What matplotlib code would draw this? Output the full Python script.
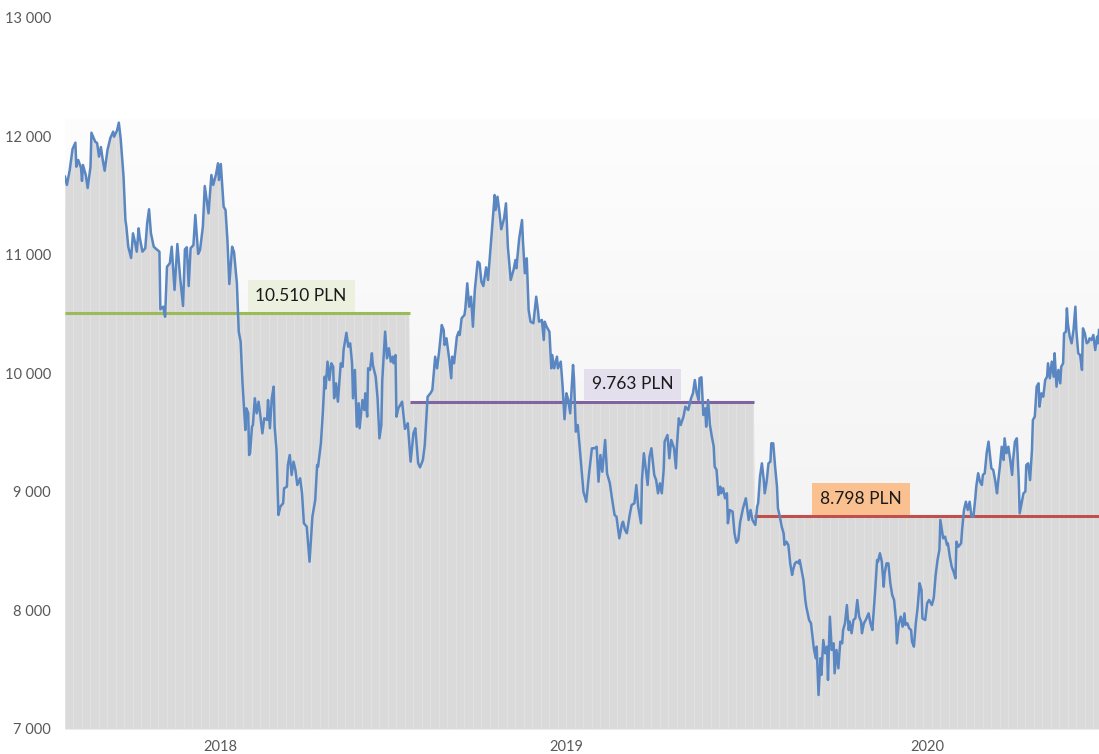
import numpy as np
import matplotlib
matplotlib.use("Agg")
import matplotlib.pyplot as plt
from matplotlib.colors import LinearSegmentedColormap

# dni od 2017-07-01 i cena (PLN)
days = [
    0, 2, 5, 8, 11, 12, 14, 17, 18, 19,
    22, 24, 27, 28, 32, 34, 36, 38, 40, 42,
    45, 48, 51, 52, 55, 57, 59, 62, 64, 65,
    67, 70, 72, 74, 76, 78, 79, 82, 85, 87,
    89, 91, 94, 97, 100, 101, 104, 106, 108, 111,
    113, 116, 119, 122, 125, 127, 129, 131, 133, 136,
    138, 141, 143, 146, 148, 150, 152, 155, 157, 160,
    162, 163, 165, 168, 170, 172, 174, 177, 179, 182,
    184, 186, 188, 191, 192, 194, 195, 196, 198, 199,
    201, 203, 205, 207, 209, 211, 214, 215, 217, 219,
    221, 222, 224, 226, 228, 231, 232, 235, 236, 238,
    240, 242, 244, 246, 249, 251, 253, 256, 259, 262,
    265, 267, 268, 271, 273, 275, 276, 278, 280, 282,
    284, 285, 287, 289, 292, 294, 295, 298, 300, 302,
    304, 305, 307, 309, 311, 312, 315, 317, 318, 320,
    321, 323, 325, 326, 329, 331, 333, 335, 336, 339,
    341, 343, 345, 347, 348, 350, 351, 353, 357, 360,
    363, 366, 369, 371, 374, 376, 379, 381, 384, 387,
    389, 392, 394, 396, 399, 401, 402, 404, 407, 409,
    410, 412, 415, 417, 418, 420, 423, 424, 426, 428,
    430, 432, 434, 437, 439, 441, 443, 446, 448, 451,
    453, 455, 456, 458, 460, 462, 465, 467, 469, 472,
    475, 477, 478, 481, 484, 485, 487, 489, 491, 493,
    496, 499, 501, 502, 505, 507, 508, 510, 513, 515,
    516, 518, 521, 522, 525, 527, 529, 531, 533, 535,
    538, 539, 541, 543, 545, 549, 552, 555, 558, 561,
    563, 565, 567, 569, 572, 574, 577, 579, 582, 584,
    587, 590, 591, 593, 595, 598, 600, 603, 605, 607,
    610, 611, 613, 615, 617, 619, 621, 624, 626, 628,
    630, 632, 634, 635, 638, 640, 642, 645, 647, 648,
    650, 652, 655, 657, 660, 663, 665, 667, 669, 671,
    672, 674, 676, 678, 679, 681, 683, 685, 687, 688,
    690, 692, 694, 695, 697, 699, 701, 702, 704, 707,
    709, 711, 713, 715, 718, 721, 724, 726, 728, 731,
    733, 734, 736, 738, 740, 741, 743, 745, 747, 748,
    750, 752, 754, 755, 757, 759, 761, 762, 764, 766,
    768, 770, 771, 773, 775, 777, 778, 780, 782, 784,
    785, 788, 790, 792, 793, 795, 796, 798, 800, 801,
    803, 805, 807, 808, 810, 812, 814, 815, 817, 819,
    821, 823, 824, 826, 828, 830, 831, 833, 835, 837,
    839, 841, 843, 844, 846, 848, 851, 853, 855, 858,
    860, 861, 863, 865, 867, 868, 870, 872, 874, 876,
    878, 880, 881, 883, 885, 887, 889, 890, 892, 894,
    896, 897, 899, 901, 903, 905, 907, 908, 911, 913,
    915, 918, 920, 922, 924, 926, 927, 930, 932, 934,
    935, 937, 939, 941, 943, 944, 946, 949, 950, 952,
    954, 956, 958, 960, 962, 964, 965, 967, 969, 971,
    972, 974, 976, 978, 980, 981, 983, 985, 987, 988,
    990, 992, 994, 995, 997, 999, 1001, 1003, 1004, 1006,
    1008, 1010, 1011, 1013, 1015, 1017, 1018, 1020, 1022, 1024,
    1025, 1027, 1029, 1031, 1032, 1034, 1036, 1038, 1040, 1041,
    1043, 1045, 1047, 1048, 1050, 1052, 1054, 1055, 1057, 1058,
    1060, 1061, 1062, 1064, 1066, 1068, 1070, 1071, 1073, 1075,
    1077, 1078, 1080, 1082, 1084, 1085, 1087, 1089, 1091, 1093,
    1094, 1095,
]
price = [
    11661, 11591, 11717, 11895, 11948, 11745, 11802, 11734, 11625, 11760,
    11675, 11565, 11745, 12032, 11956, 11945, 11830, 11911, 11802, 11711,
    11886, 11987, 12041, 11998, 12049, 12117, 11979, 11661, 11295, 11239,
    11070, 10975, 11183, 11112, 11028, 11225, 11155, 11028, 11057, 11268,
    11386, 11183, 11070, 11048, 11028, 10542, 10564, 10479, 10901, 10930,
    11070, 10705, 11093, 10803, 10570, 11048, 11065, 10738, 11057, 11084,
    11338, 11009, 11042, 11239, 11582, 11464, 11352, 11675, 11591, 11684,
    11774, 11633, 11768, 11408, 11380, 11127, 10755, 11070, 11025, 10764,
    10353, 10268, 9917, 9523, 9706, 9667, 9312, 9329, 9551, 9565,
    9791, 9664, 9762, 9636, 9495, 9622, 9608, 9776, 9538, 9791,
    9889, 9551, 9354, 8806, 8876, 8905, 9031, 9045, 9228, 9312,
    9144, 9256, 9186, 9059, 9116, 8989, 8736, 8707, 8412, 8792,
    8933, 9228, 9214, 9411, 9664, 9973, 9875, 10100, 9945, 10086,
    10057, 9791, 9917, 9762, 10086, 10057, 10198, 10344, 10226, 10255,
    10086, 9791, 10030, 9551, 9749, 9538, 9776, 9692, 9833, 9636,
    10044, 10030, 10171, 10072, 9973, 9791, 9453, 9565, 9945, 10353,
    10128, 10213, 10100, 10142, 10086, 10156, 9636, 9706, 9762, 9532,
    9580, 9256, 9495, 9538, 9242, 9208, 9270, 9397, 9804, 9833,
    9861, 10142, 10044, 10171, 10409, 10367, 10241, 10297, 10114, 9960,
    10142, 10086, 10311, 10353, 10325, 10466, 10494, 10550, 10761, 10564,
    10648, 10395, 10705, 10944, 10930, 10775, 10738, 10896, 10789, 11099,
    11295, 11506, 11380, 11492, 11365, 11217, 11310, 11436, 11070, 10789,
    10874, 10958, 10888, 11141, 11295, 11112, 10846, 10972, 10536, 10437,
    10424, 10648, 10522, 10437, 10452, 10283, 10437, 10395, 10353, 10044,
    10156, 10044, 10142, 10044, 10100, 9889, 9614, 9833, 9776, 9664,
    10072, 9960, 9509, 9565, 9382, 9003, 8918, 9158, 9369, 9369,
    9382, 9087, 9312, 9171, 9439, 9158, 9073, 8960, 8806, 8792,
    8609, 8736, 8749, 8679, 8652, 8806, 8890, 8905, 9059, 8876,
    8736, 9101, 9327, 9200, 9059, 9298, 9369, 9144, 9101, 8989,
    9073, 8989, 9186, 9425, 9481, 9284, 9439, 9369, 9200, 9382,
    9622, 9565, 9636, 9720, 9692, 9791, 9833, 9945, 9833, 9776,
    9960, 9968, 9650, 9706, 9551, 9776, 9565, 9467, 9382, 9214,
    9186, 8975, 9045, 8989, 9031, 8947, 8989, 8736, 8848, 8834,
    8652, 8572, 8595, 8747, 8862, 8947, 8764, 8848, 8764, 8722,
    8876, 8905, 9129, 9242, 9101, 8989, 9087, 9242, 9256, 9411,
    9411, 9214, 9045, 8862, 8792, 8707, 8652, 8553, 8581, 8553,
    8398, 8300, 8342, 8398, 8412, 8398, 8426, 8342, 8257, 8089,
    8032, 7920, 7892, 7751, 7681, 7597, 7695, 7287, 7597, 7456,
    7751, 7639, 7695, 7414, 7948, 7667, 7723, 7470, 7667, 7512,
    7737, 7723, 7835, 7892, 8046, 7835, 7906, 7808, 7920, 7934,
    8089, 7948, 7906, 7808, 7892, 7920, 7976, 7892, 7835, 8173,
    8426, 8412, 8483, 8412, 8201, 8314, 8398, 8398, 8230, 8131,
    8089, 7920, 7723, 7892, 7948, 7863, 7976, 7878, 7892, 7850,
    7835, 7737, 7695, 7892, 8032, 8230, 8173, 7934, 7920, 8061,
    8089, 8046, 8106, 8300, 8426, 8511, 8764, 8609, 8623, 8553,
    8567, 8454, 8370, 8327, 8272, 8581, 8538, 8567, 8679, 8848,
    8918, 8848, 8918, 8792, 8792, 8947, 9045, 9158, 9087, 9059,
    9144, 9158, 9327, 9425, 9270, 9200, 9186, 9101, 8989, 9073,
    9214, 9382, 9270, 9453, 9327, 9382, 9270, 9144, 9270, 9425,
    9453, 9101, 8820, 8905, 8989, 9003, 9228, 9242, 9101, 9354,
    9608, 9636, 9889, 9917, 9720, 9833, 9804, 9945, 9973, 10086,
    9960, 10100, 9973, 10171, 9889, 10030, 9917, 10057, 10086, 10339,
    10353, 10550, 10424, 10311, 10255, 10367, 10564, 10367, 10171, 10156,
    10030, 10381, 10339, 10255, 10268, 10297, 10283, 10325, 10198, 10311,
    10255, 10367,
]

# srednie roczne (lipiec-czerwiec)
period_edges = [0, 365, 730, 1095]
avg_levels = [10510, 9763, 8798]
avg_labels = ["10.510 PLN", "9.763 PLN", "8.798 PLN"]
level_colors = ["#9bbb59", "#8064a2", "#c0504d"]
label_bg = ["#ebf1de", "#e4dfec", "#fac090"]
label_days = [250, 601, 843]

year_ticks = [165, 531, 913]
year_labels = ["2018", "2019", "2020"]

plt.rcParams["font.family"] = ["Lato", "DejaVu Sans"]

fig = plt.figure(figsize=(10.99, 7.54), dpi=100)
ax = fig.add_axes([65 / 1099, 25 / 754, 1034 / 1099, 711 / 754])

# tlo - gradient do maksimum ceny
top = max(price) + 30
grad = np.linspace(1, 0, 256).reshape(-1, 1)
cmap = LinearSegmentedColormap.from_list("bg", ["#efefef", "#fdfdfd"])
ax.imshow(grad, extent=(days[0], days[-1], 7000, top), aspect="auto",
          cmap=cmap, vmin=0, vmax=1, origin="upper", zorder=0)

# szare pole pod cena / srednia
xf = np.arange(days[0], days[-1] + 1)
pf = np.interp(xf, days, price)
idx = np.searchsorted(period_edges[1:-1], xf, side="right")
lvl = np.array(avg_levels)[idx]
upper = np.maximum(pf, lvl)
ax.fill_between(xf, 7000, upper, color="#dadada", lw=0, zorder=1)
ax.vlines(xf[::9], 7000, upper[::9], color="#e3e3e3", lw=0.6, zorder=1.5)

for i in range(3):
    ax.hlines(avg_levels[i], period_edges[i], period_edges[i + 1],
              color=level_colors[i], lw=2.2, zorder=3)
    ax.text(label_days[i], avg_levels[i] + 145, avg_labels[i], ha="center", va="center",
            fontsize=12.5, color="#1a1a1a", zorder=5,
            bbox=dict(boxstyle="square,pad=0.45", fc=label_bg[i], ec="none"))

ax.plot(days, price, color="#5a87c1", lw=1.8, zorder=4, solid_joinstyle="round")

ax.set_xlim(days[0], days[-1])
ax.set_ylim(7000, 13000)
yt = np.arange(7000, 13001, 1000)
ax.set_yticks(yt)
ax.set_yticklabels([f"{v:,}".replace(",", " ") for v in yt])
ax.set_xticks(year_ticks)
ax.set_xticklabels(year_labels)
ax.tick_params(axis="y", length=0, pad=10, labelsize=10.5, labelcolor="#595959")
ax.tick_params(axis="x", length=0, pad=8, labelsize=10.5, labelcolor="#595959")
for s in ax.spines.values():
    s.set_visible(False)

fig.savefig("out.png", dpi=100)
